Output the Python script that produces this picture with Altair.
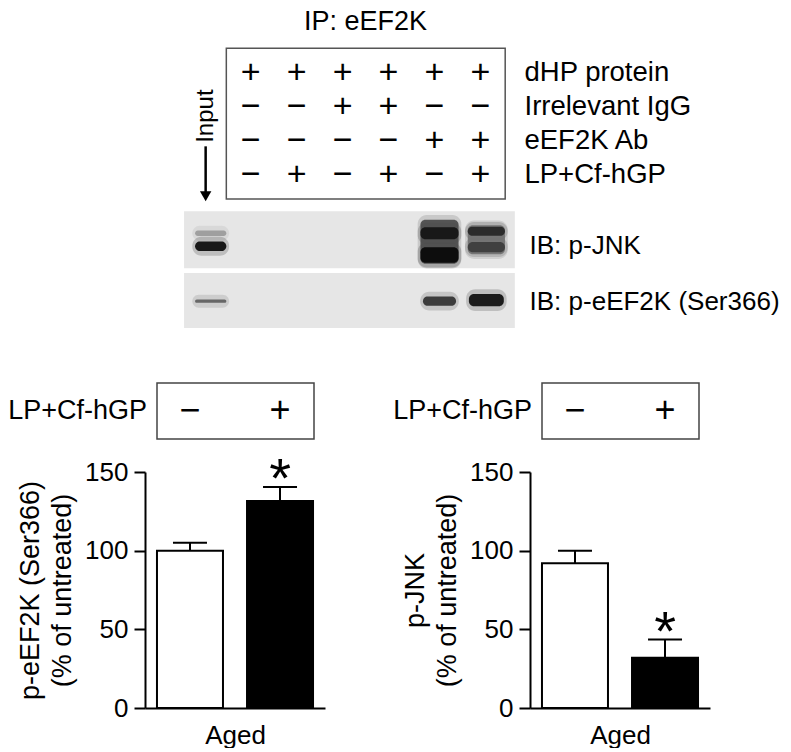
import altair as alt
import pandas as pd

# ---------------- top panel: IP table and blots ----------------
lanes = [1, 2, 3, 4, 5, 6]
row_labels = ["dHP protein", "Irrelevant IgG", "eEF2K Ab", "LP+Cf-hGP"]
row_signs = [
    ["+", "+", "+", "+", "+", "+"],
    ["−", "−", "+", "+", "−", "−"],
    ["−", "−", "−", "−", "+", "+"],
    ["−", "+", "−", "+", "−", "+"],
]
ip_title = "IP: eEF2K"
input_label = "Input"
input_lane = 0.13
blot_labels = ["IB: p-JNK", "IB: p-eEF2K (Ser366)"]

# blot bands (lane position, vertical centre in row units, thickness, width in lanes, shade)
band_lane = [0.13, 0.13, 5.11, 5.11, 5.11, 6.13, 6.13, 6.13, 0.13, 5.11, 6.13]
band_center = [5.71, 6.09, 5.96, 5.71, 6.35, 5.90, 5.65, 6.12, 7.71, 7.71, 7.68]
band_thick = [0.16, 0.28, 1.30, 0.36, 0.45, 0.85, 0.27, 0.30, 0.10, 0.27, 0.36]
band_width = [0.68, 0.68, 0.83, 0.83, 0.83, 0.81, 0.81, 0.81, 0.68, 0.72, 0.76]
band_shade = ["#9a9a9a", "#0a0a0a", "#4a4a4a", "#141414", "#080808",
              "#707070", "#262626", "#3c3c3c", "#5e5e5e", "#303030", "#0e0e0e"]

# ---------------- bottom panels: quantification ----------------
treatments = ["−", "+"]
bar_fill = ["white", "black"]
eef2k_mean = [100, 131.5]
eef2k_sem = [5, 9]
jnk_mean = [92, 32]
jnk_sem = [8, 11.5]
significance = ["", "*"]
y_ticks = [0, 50, 100, 150]

FONT = "Liberation Sans"

XS = alt.Scale(domain=[-1.3, 7.45], nice=False, zero=False)
YS = alt.Scale(domain=[-0.6, 8.5], nice=False, zero=False, reverse=True)


def qx(f):
    return alt.X(f, type="quantitative", scale=XS, axis=None)


def qy(f):
    return alt.Y(f, type="quantitative", scale=YS, axis=None)


# blot backgrounds
blot_df = pd.DataFrame({"x0": [-0.45, -0.45], "x1": [6.75, 6.75],
                        "y0": [5.06, 6.88], "y1": [6.74, 8.5],
                        "label": blot_labels, "ly": [6.09, 7.74], "lx": [7.07, 7.07]})
blot_bg = alt.Chart(blot_df).mark_rect(color="#e6e6e6").encode(
    x=qx("x0"), x2="x1", y=qy("y0"), y2="y1")
blot_text = alt.Chart(blot_df).mark_text(align="left", fontSize=26, font=FONT).encode(
    x=qx("lx"), y=qy("ly"), text="label:N")

band_df = pd.DataFrame({"lane": band_lane, "c": band_center, "t": band_thick,
                        "w": band_width, "shade": band_shade,
                        "order": list(range(len(band_lane)))})
halo = alt.Chart(band_df).transform_calculate(
    x0="datum.lane - datum.w / 2 - 0.06", x1="datum.lane + datum.w / 2 + 0.06",
    y0="datum.c - datum.t / 2 - 0.14", y1="datum.c + datum.t / 2 + 0.14",
).mark_rect(cornerRadius=9, opacity=0.18).encode(
    x=qx("x0"), x2="x1:Q", y=qy("y0"), y2="y1:Q",
    color=alt.Color("shade:N", scale=None), order="order:Q")
bands = alt.Chart(band_df).transform_calculate(
    x0="datum.lane - datum.w / 2", x1="datum.lane + datum.w / 2",
    y0="datum.c - datum.t / 2", y1="datum.c + datum.t / 2",
).mark_rect(cornerRadius=5, opacity=0.92).encode(
    x=qx("x0"), x2="x1:Q", y=qy("y0"), y2="y1:Q",
    color=alt.Color("shade:N", scale=None), order="order:Q")

box_df = pd.DataFrame({"x0": [0.47], "x1": [6.54], "y0": [0.26], "y1": [4.7],
                       "tx": [3.5], "ty": [-0.5], "title": [ip_title]})
box = alt.Chart(box_df).mark_rect(fillOpacity=0, stroke="#555555", strokeWidth=1.5).encode(
    x=qx("x0"), x2="x1", y=qy("y0"), y2="y1")
title = alt.Chart(box_df).mark_text(fontSize=27, font=FONT).encode(
    x=qx("tx"), y=qy("ty"), text="title:N")

sign_rows = []
for r, (lab, signs) in enumerate(zip(row_labels, row_signs), start=1):
    for ln, s in zip(lanes, signs):
        sign_rows.append({"lane": ln, "row": r, "sign": s})
sign_df = pd.DataFrame(sign_rows)
signs_layer = alt.Chart(sign_df).mark_text(fontSize=34, font=FONT).encode(
    x=qx("lane"), y=qy("row"), text="sign:N")

rowlab_df = pd.DataFrame({"row": [1, 2, 3, 4], "label": row_labels, "x": [6.96] * 4})
rowlab_layer = alt.Chart(rowlab_df).mark_text(align="left", fontSize=27.5, font=FONT).encode(
    x=qx("x"), y=qy("row"), text="label:N")

input_df = pd.DataFrame({"x": [input_lane - 0.11], "ty": [2.26], "y0": [3.15], "y1": [4.5],
                         "head": [4.62], "label": [input_label]})
input_text = alt.Chart(input_df).mark_text(angle=270, fontSize=24, font=FONT).encode(
    x=qx("x"), y=qy("ty"), text="label:N")
arrow_stem = alt.Chart(input_df).mark_rule(strokeWidth=2.5, color="black").encode(
    x=qx("x"), y=qy("y0"), y2="y1")
arrow_head = alt.Chart(input_df).mark_point(shape="triangle-down", size=130, filled=True,
                                            color="black", opacity=1).encode(
    x=qx("x"), y=qy("head"))

top = alt.layer(blot_bg, halo, bands, box, title, signs_layer, rowlab_layer, blot_text,
                input_text, arrow_stem, arrow_head).properties(width=402, height=309)


# ---------------- bar panels ----------------
def panel(means, sems, ytitle):
    df = pd.DataFrame({"treat": treatments, "mean": means,
                       "top": [m + s for m, s in zip(means, sems)],
                       "fill": bar_fill, "sig": significance})
    xscale = alt.Scale(domain=treatments, paddingInner=0.267, paddingOuter=0.133)
    xs = alt.X("treat:N", sort=treatments, scale=xscale,
               axis=alt.Axis(title="Aged", labels=False, ticks=False, domainColor="black",
                             domainWidth=2, titleFontSize=26, titleFontWeight="normal",
                             titleFont=FONT, titleColor="black", titlePadding=14))
    xb = alt.X("treat:N", sort=treatments, scale=xscale)
    ys = alt.Y("mean:Q", scale=alt.Scale(domain=[0, 150], nice=False),
               axis=alt.Axis(values=y_ticks, tickSize=11, tickWidth=2, tickColor="black",
                             domainColor="black", domainWidth=2, grid=False,
                             labelFontSize=26, labelFont=FONT, labelColor="black",
                             labelPadding=6, title=ytitle, titleFontSize=27,
                             titleFont=FONT, titleFontWeight="normal", titleColor="black",
                             titleLineHeight=32, titlePadding=8))
    base = alt.Chart(df)
    bars = base.mark_bar(stroke="black", strokeWidth=2).encode(
        x=xs, y=ys, fill=alt.Fill("fill:N", scale=None))
    err = base.mark_rule(strokeWidth=2, color="black").encode(x=xb, y="mean:Q", y2="top:Q")
    cap = base.mark_tick(size=34, thickness=2, color="black", opacity=1).encode(x=xb, y="top:Q")
    star = base.mark_text(fontSize=56, dy=10, baseline="alphabetic", font=FONT).encode(
        x=xb, y="top:Q", text="sig:N")
    hdr = pd.DataFrame({"label": ["LP+Cf-hGP"]})
    hbox = alt.Chart(hdr).mark_rect(fillOpacity=0, stroke="#444444", strokeWidth=1.5).encode(
        x=alt.value(12), x2=alt.value(169), y=alt.value(-89), y2=alt.value(-33))
    hlab = alt.Chart(hdr).mark_text(align="right", fontSize=27, font=FONT).encode(
        x=alt.value(2), y=alt.value(-61), text="label:N")
    hsign = base.mark_text(fontSize=36, font=FONT).encode(
        x=xb, y=alt.value(-61), text="treat:N")
    return alt.layer(bars, err, cap, star, hbox, hlab, hsign).properties(width=180, height=236)


left = panel(eef2k_mean, eef2k_sem, ["p-eEF2K (Ser366)", "(% of untreated)"])
right = panel(jnk_mean, jnk_sem, ["p-JNK", "(% of untreated)"])

bottom = alt.hconcat(left, right, spacing=205, bounds="flush")
chart = alt.vconcat(top, bottom, spacing=144, bounds="flush").properties(
    padding=0
).configure(font=FONT).configure_view(strokeWidth=0, stroke="transparent")

chart.save("out.html", embed_options={"renderer": "svg", "actions": False})
